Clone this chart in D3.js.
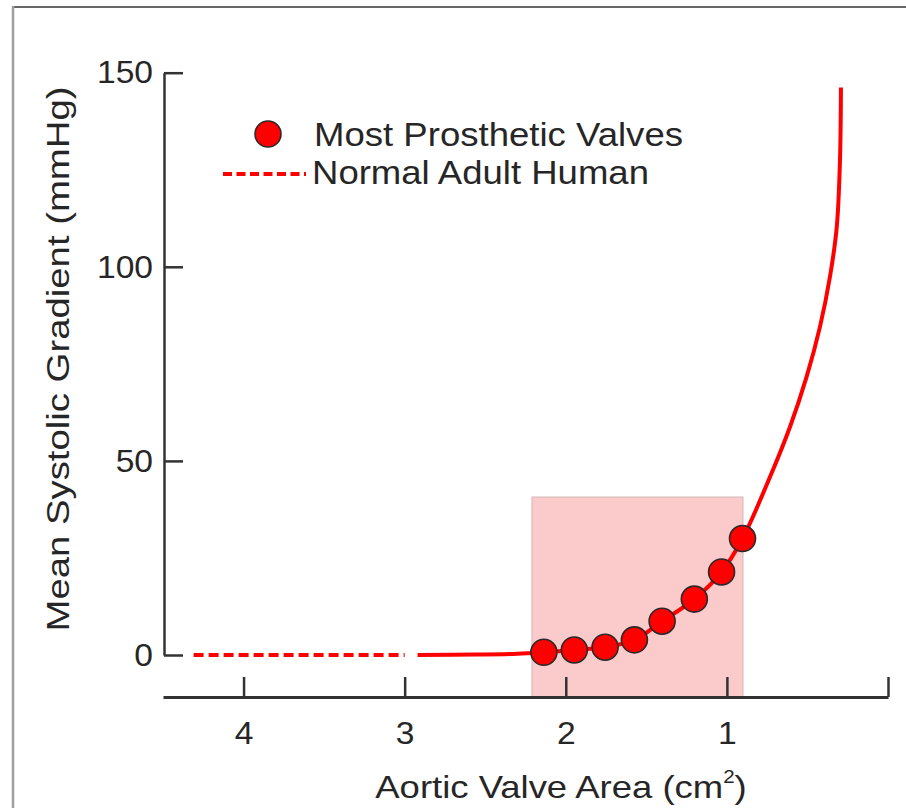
<!DOCTYPE html>
<html>
<head>
<meta charset="utf-8">
<script src="https://cdn.jsdelivr.net/npm/d3@7"></script>
<style>
  html, body { margin: 0; padding: 0; background: #fff; }
  svg { display: block; font-family: "Liberation Sans", Arial, Helvetica, sans-serif; }
</style>
</head>
<body>
<svg id="chart" width="906" height="808"></svg>
<script>
// ---- data ----
const curveArea = [2.92, 2.55, 2.3, 2.136, 1.947, 1.756, 1.574, 1.402, 1.202, 1.033, 0.903, 0.732, 0.608, 0.505, 0.422, 0.360, 0.318, 0.298, 0.292];
const curveGrad = [0.0, 0.1, 0.3, 0.7, 1.3, 2.0, 3.9, 8.7, 14.4, 21.4, 30.0, 45.9, 58.8, 71.7, 84.6, 97.5, 110.3, 127.5, 146.2];
const valveArea = [2.136, 1.947, 1.756, 1.574, 1.402, 1.202, 1.033, 0.903];
const valveGrad = [0.7, 1.3, 2.0, 3.9, 8.7, 14.4, 21.4, 30.0];
const normalArea = [4.31, 3.0];
const normalGrad = [0, 0];
const boxArea = [2.21, 0.90];
const boxGradTop = 40.7;
const xTickValues = [4, 3, 2, 1, 0];
const xTickLabels = ["4", "3", "2", "1", ""];
const yTickValues = [0, 50, 100, 150];
const yTickLabels = ["0", "50", "100", "150"];
const legendLabels = ["Most Prosthetic Valves", "Normal Adult Human"];
const xTitle = "Aortic Valve Area (cm";
const yTitle = "Mean Systolic Gradient (mmHg)";

// ---- layout ----
const svg = d3.select("#chart");
const RED = "#ff0000";
const AXIS = "#333";
const TXT = "#262626";
const xAxisY = 697;
const yAxisX = 164;

const x = d3.scaleLinear().domain([4.5, 0]).range([163, 888]);
const y = d3.scaleLinear().domain([0, 150]).range([655, 72.7]);

function stretch(sel, f) {
  sel.each(function () {
    const len = this.getComputedTextLength();
    if (len > 0) d3.select(this).attr("textLength", len * f).attr("lengthAdjust", "spacingAndGlyphs");
  });
}

// frame
svg.append("line").attr("x1", 12).attr("x2", 906).attr("y1", 7).attr("y2", 7)
  .attr("stroke", "#666").attr("stroke-width", 2);
svg.append("line").attr("x1", 13).attr("x2", 13).attr("y1", 6).attr("y2", 808)
  .attr("stroke", "#a0a0a0").attr("stroke-width", 2.5);

// shaded box
svg.append("rect")
  .attr("x", x(boxArea[0])).attr("width", x(boxArea[1]) - x(boxArea[0]))
  .attr("y", y(boxGradTop)).attr("height", xAxisY - y(boxGradTop))
  .attr("fill", "#fbcaca").attr("stroke", "#d6b8b8").attr("stroke-width", 1);

// y axis
const yAxis = svg.append("g").attr("transform", `translate(${yAxisX},0)`)
  .call(d3.axisLeft(y).tickValues(yTickValues).tickFormat((d, i) => yTickLabels[i])
    .tickSizeInner(-19).tickSizeOuter(0).tickPadding(11));
yAxis.select(".domain").attr("stroke", AXIS).attr("stroke-width", 2.5);
yAxis.selectAll(".tick line").attr("stroke", AXIS).attr("stroke-width", 2.5);
yAxis.selectAll("text").attr("font-size", 32).attr("fill", TXT)
  .attr("font-family", "'Liberation Sans', Arial, sans-serif");
stretch(yAxis.selectAll("text"), 1.05);

// x axis
const xAxis = svg.append("g").attr("transform", `translate(0,${xAxisY})`)
  .call(d3.axisBottom(x).tickValues(xTickValues).tickFormat((d, i) => xTickLabels[i])
    .tickSizeInner(-20).tickSizeOuter(0).tickPadding(24));
xAxis.select(".domain").attr("stroke", AXIS).attr("stroke-width", 2.8);
xAxis.selectAll(".tick line").attr("stroke", AXIS).attr("stroke-width", 2.5);
xAxis.selectAll("text").attr("font-size", 32).attr("fill", TXT)
  .attr("font-family", "'Liberation Sans', Arial, sans-serif");
stretch(xAxis.selectAll("text"), 1.05);

// curve
const curvePts = curveArea.map((a, i) => [a, curveGrad[i]]);
svg.append("path").datum(curvePts)
  .attr("d", d3.line().x(d => x(d[0])).y(d => y(d[1])).curve(d3.curveCatmullRom.alpha(0.5)))
  .attr("fill", "none").attr("stroke", RED).attr("stroke-width", 4);

// normal adult dashed line
const normPts = normalArea.map((a, i) => [a, normalGrad[i]]);
svg.append("path").datum(normPts)
  .attr("d", d3.line().x(d => x(d[0])).y(d => y(d[1])))
  .attr("fill", "none").attr("stroke", RED).attr("stroke-width", 4)
  .attr("stroke-dasharray", "10,5");

// valve points
svg.selectAll(".pt").data(valveArea.map((a, i) => [a, valveGrad[i]])).enter()
  .append("circle").attr("class", "pt")
  .attr("cx", d => x(d[0])).attr("cy", d => y(d[1])).attr("r", 13)
  .attr("fill", RED).attr("stroke", "#2a2a2a").attr("stroke-width", 1.6);

// legend
const lg = svg.append("g");
lg.append("circle").attr("cx", 268).attr("cy", 134).attr("r", 13)
  .attr("fill", RED).attr("stroke", "#2a2a2a").attr("stroke-width", 1.6);
lg.append("line").attr("x1", 223).attr("x2", 306).attr("y1", 174).attr("y2", 174)
  .attr("stroke", RED).attr("stroke-width", 4).attr("stroke-dasharray", "9,4.5");
const lt1 = lg.append("text").attr("x", 314).attr("y", 146).attr("font-size", 33).attr("fill", TXT)
  .text(legendLabels[0]);
lt1.attr("textLength", 369).attr("lengthAdjust", "spacingAndGlyphs");
const lt2 = lg.append("text").attr("x", 312).attr("y", 184).attr("font-size", 33).attr("fill", TXT)
  .text(legendLabels[1]);
lt2.attr("textLength", 337).attr("lengthAdjust", "spacingAndGlyphs");

// x title
const xt = svg.append("text").attr("text-anchor", "middle").attr("font-size", 32).attr("fill", TXT)
  .attr("transform", "translate(561,798) scale(1.14,1)");
xt.append("tspan").text(xTitle);
xt.append("tspan").attr("font-size", 18).attr("dy", -15).text("2");
xt.append("tspan").attr("dy", 15).text(")");

// y title
const yt = svg.append("text").attr("text-anchor", "middle").attr("font-size", 32).attr("fill", TXT)
  .attr("transform", "translate(69,359) rotate(-90)").text(yTitle);
yt.attr("textLength", 545).attr("lengthAdjust", "spacingAndGlyphs");
</script>
</body>
</html>
